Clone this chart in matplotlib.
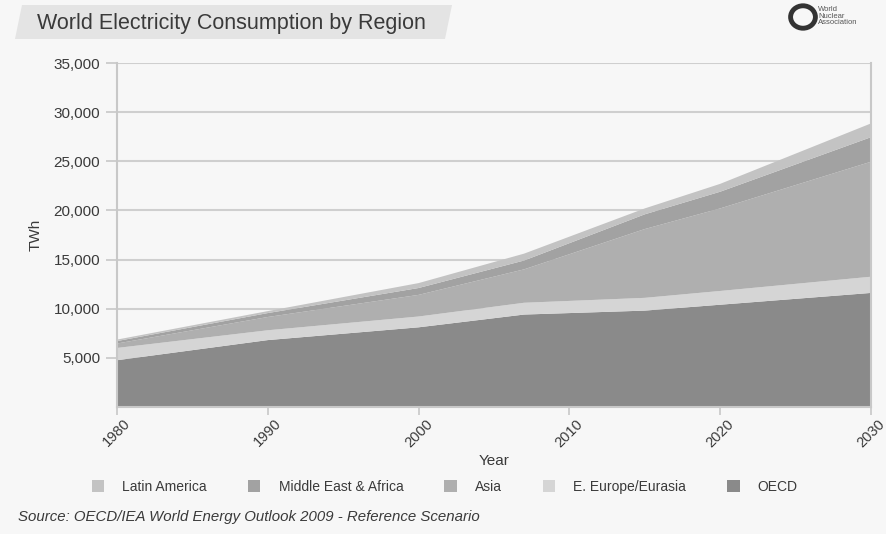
import numpy as np
import matplotlib
matplotlib.use("Agg")
import matplotlib.pyplot as plt
from matplotlib.patches import Patch, Polygon, Ellipse

plt.rcParams['font.family'] = ['Liberation Sans', 'DejaVu Sans']

# values (TWh), stacked from the bottom up
years = [1980, 1990, 2000, 2007, 2015, 2020, 2030]
oecd = [4750, 6800, 8100, 9400, 9800, 10400, 11600]
e_europe = [1250, 1000, 1100, 1200, 1300, 1400, 1650]
asia = [450, 1350, 2200, 3400, 7000, 8400, 11700]
mideast_africa = [250, 400, 700, 900, 1500, 1700, 2500]
latin_america = [150, 200, 500, 700, 600, 800, 1400]

regions = ['OECD', 'E. Europe/Eurasia', 'Asia', 'Middle East & Africa', 'Latin America']
colors = ['#8a8a8a', '#d5d5d5', '#afafaf', '#a2a2a2', '#c3c3c3']
xticks = [1980, 1990, 2000, 2010, 2020, 2030]
yticks = [5000, 10000, 15000, 20000, 25000, 30000, 35000]

bg = '#f7f7f7'
txt = '#3a3a3a'
fig = plt.figure(figsize=(8.86, 5.34), dpi=100, facecolor=bg)
ax = fig.add_axes([0.132, 0.238, 0.851, 0.644], facecolor=bg)

ax.stackplot(years, oecd, e_europe, asia, mideast_africa, latin_america,
             colors=colors, linewidth=0, zorder=2)

ax.set_xlim(1980, 2030)
ax.set_ylim(0, 35000)
ax.set_yticks(yticks)
ax.set_yticklabels([f'{v:,}' for v in yticks], fontsize=11, color=txt)
ax.set_xticks(xticks)
ax.set_xticklabels([str(v) for v in xticks], rotation=45, ha='center',
                   fontsize=10.5, color=txt)
ax.yaxis.grid(True, color='#cfcfcf', linewidth=1.5, zorder=1)
ax.set_axisbelow(True)
ax.tick_params(axis='y', length=8, color='#c8c8c8', width=1.2, pad=4)
ax.tick_params(axis='x', length=6, color='#c8c8c8', width=1.2, pad=1)
for side in ['left', 'bottom', 'right']:
    ax.spines[side].set_color('#c8c8c8')
    ax.spines[side].set_linewidth(1.5)
ax.spines['top'].set_visible(False)

ax.set_xlabel('Year', fontsize=11, color=txt, labelpad=3)
ax.set_ylabel('TWh', fontsize=11, color=txt, labelpad=8)

# title banner (pixel coordinates from the bottom-left)
banner = Polygon([[15, 534 - 39], [22, 534 - 5], [452, 534 - 5], [445, 534 - 39]],
                 closed=True, transform=None, facecolor='#e4e4e4', edgecolor='none')
fig.patches.append(banner)
fig.text(37 / 886, 1 - 23 / 534, 'World Electricity Consumption by Region',
         fontsize=15.5, color=txt, va='center', ha='left')

# logo
logo = Ellipse((803 / 886, 1 - 17 / 534), 0.028, 0.042, transform=fig.transFigure,
               facecolor='none', edgecolor='#333333', linewidth=3.5)
fig.patches.append(logo)
fig.text(818 / 886, 1 - 16 / 534, 'World\nNuclear\nAssociation', fontsize=5.5,
         color='#555555', va='center', ha='left', linespacing=0.9)

# legend (same order as the reference)
order = [4, 3, 2, 1, 0]
handles = [Patch(facecolor=colors[i], edgecolor='none', label=regions[i]) for i in order]
fig.legend(handles=handles, loc='center', bbox_to_anchor=(0.502, 1 - 487 / 534),
           ncol=5, frameon=False, fontsize=10, handlelength=0.9, handleheight=0.9,
           columnspacing=2.95, handletextpad=1.3, labelcolor=txt)

fig.text(18 / 886, 1 - 517 / 534,
         'Source: OECD/IEA World Energy Outlook 2009 - Reference Scenario',
         fontsize=10.8, style='italic', color=txt, va='center', ha='left')

fig.savefig('out.png', dpi=100, facecolor=bg)
